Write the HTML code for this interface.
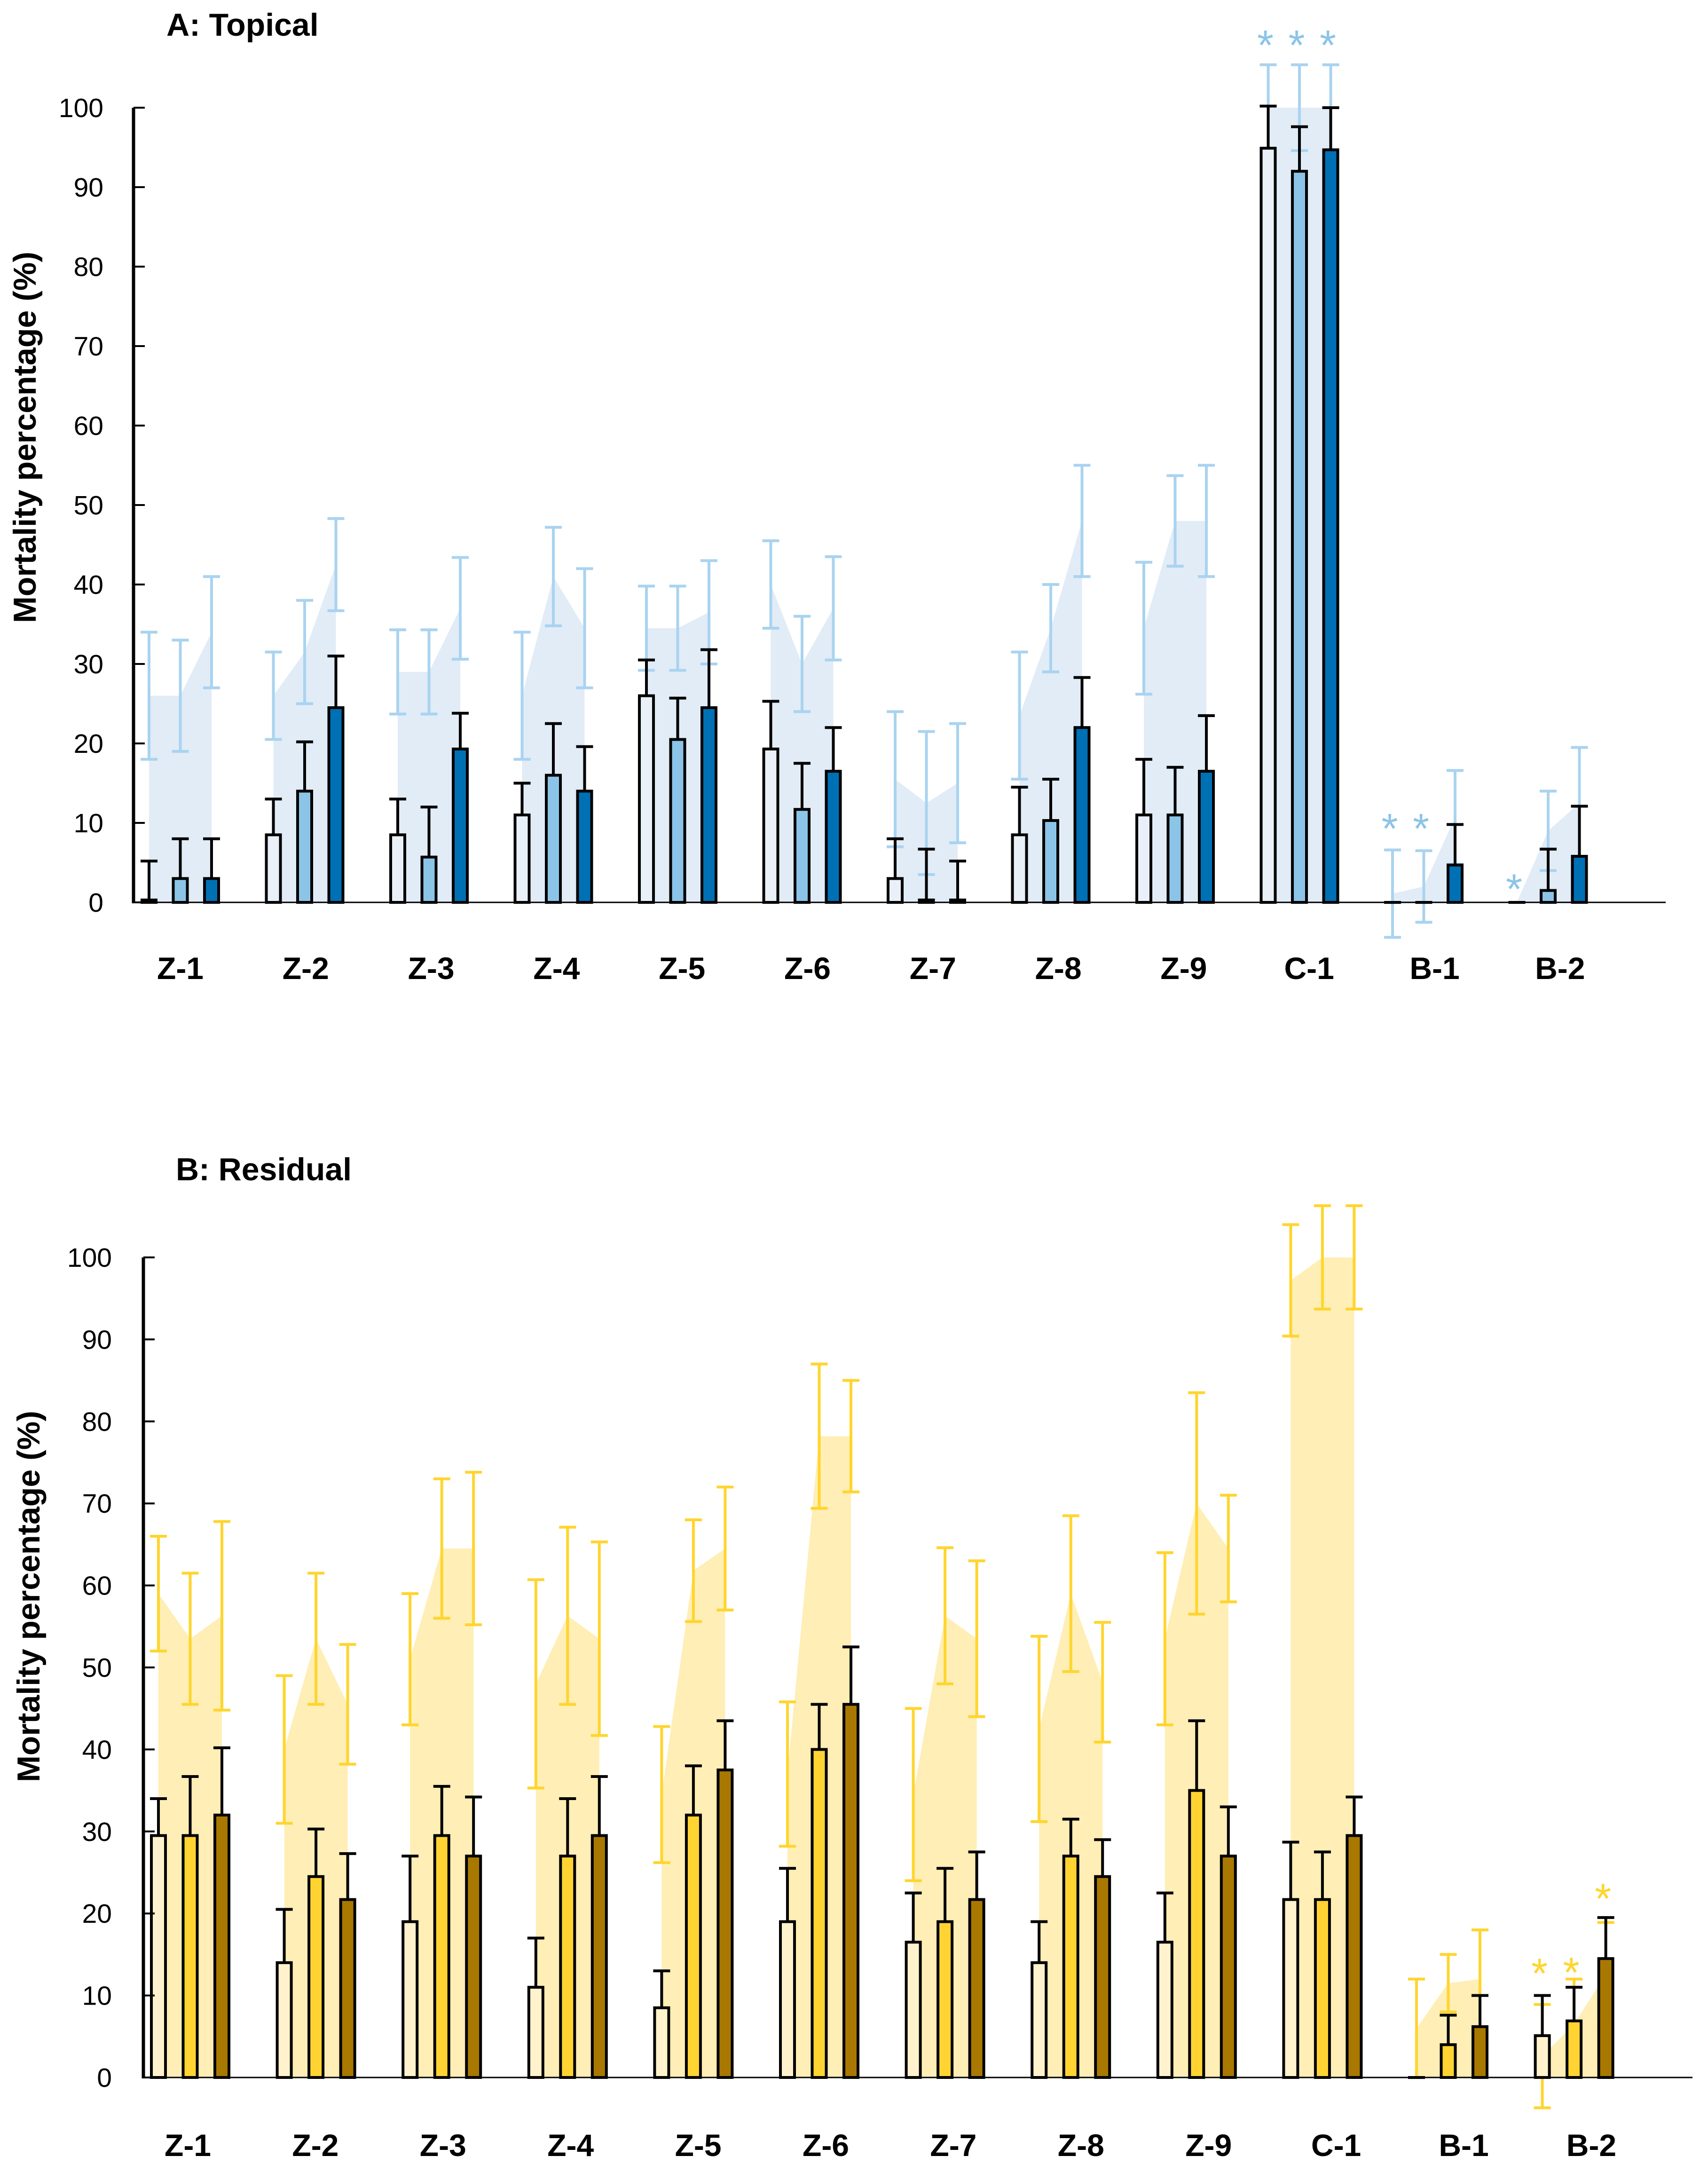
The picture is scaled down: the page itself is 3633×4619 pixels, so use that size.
<!DOCTYPE html>
<html><head><meta charset="utf-8"><style>
html,body{margin:0;padding:0;background:#fff;}
svg{display:block;}
text{font-family:"Liberation Sans",sans-serif;}
</style></head><body>
<svg id="chart" width="3633" height="4619" viewBox="0 0 3633 4619" xmlns="http://www.w3.org/2000/svg">
<g id="panelA"></g>
<g id="panelB"></g>
</svg>
<script>
const categories = ["Z-1","Z-2","Z-3","Z-4","Z-5","Z-6","Z-7","Z-8","Z-9","C-1","B-1","B-2"];
const yTicks = [0,10,20,30,40,50,60,70,80,90,100];
// Panel A (topical): bar means and upper error
const aBar1 = [0.3,8.5,8.5,11,26,19.3,3,8.5,11,94.9,0,0];
const aBar1Err = [5.2,13,13,15,30.5,25.3,8,14.5,18,100.2,null,null];
const aBar2 = [3,14,5.7,16,20.5,11.7,0.3,10.3,11,92,0,1.5];
const aBar2Err = [8,20.2,12,22.5,25.7,17.5,6.7,15.5,17,97.6,null,6.7];
const aBar3 = [3,24.5,19.3,14,24.5,16.5,0.3,22,16.5,94.7,4.7,5.8];
const aBar3Err = [8,31,23.8,19.6,31.8,22,5.2,28.3,23.5,100,9.8,12.1];
// Panel A shaded comparison series (mean, ± sd)
const aShade1 = [26,26,29,26,34.5,40,15.5,23.5,34.5,100,1.1,0];
const aShade1Sd = [8,5.5,5.3,8,5.3,5.5,8.5,8,8.3,5.4,5.5,null];
const aShade2 = [26,31.5,29,41,34.5,30,12.5,34.5,48,100,2,9];
const aShade2Sd = [7,6.5,5.3,6.2,5.3,6,9,5.5,5.7,5.4,4.5,5];
const aShade3 = [34,42.5,37,34.5,36.5,37,15,48,48,100,10.7,12.5];
const aShade3Sd = [7,5.8,6.4,7.5,6.5,6.5,7.5,7,7,5.4,5.9,7];
const aStars = [[null,null,null],[null,null,null],[null,null,null],[null,null,null],[null,null,null],[null,null,null],[null,null,null],[null,null,null],[null,null,null],[109,109,109],[10.4,10.4,null],[2.8,null,null]];
// Panel B (residual)
const bBar1 = [29.5,14,19,11,8.5,19,16.5,14,16.5,21.7,0,5.1];
const bBar1Err = [34,20.5,27,17,13,25.5,22.5,19,22.5,28.7,null,10];
const bBar2 = [29.5,24.5,29.5,27,32,40,19,27,35,21.7,4,6.9];
const bBar2Err = [36.7,30.3,35.5,34,38,45.5,25.5,31.5,43.5,27.5,7.6,11];
const bBar3 = [32,21.7,27,29.5,37.5,45.5,21.7,24.5,27,29.5,6.2,14.5];
const bBar3Err = [40.2,27.3,34.2,36.7,43.5,52.5,27.5,29,33,34.2,10,19.5];
const bShade1 = [59,40,51,48,34.5,37,34.5,42.5,53.5,97.2,6,2.6];
const bShade1Sd = [7,9,8,12.7,8.3,8.8,10.5,11.3,10.5,6.8,6,6.3];
const bShade2 = [53.5,53.5,64.5,56.3,61.8,78.2,56.3,59,70,100,11.5,6.5];
const bShade2Sd = [8,8,8.5,10.8,6.2,8.8,8.3,9.5,13.5,6.3,3.5,5.5];
const bShade3 = [56.3,45.5,64.5,53.5,64.5,78.2,53.5,48.2,64.5,100,12,12.6];
const bShade3Sd = [11.5,7.3,9.3,11.8,7.5,6.8,9.5,7.3,6.5,6.3,6,6.3];
const bStars = [[null,null,null],[null,null,null],[null,null,null],[null,null,null],[null,null,null],[null,null,null],[null,null,null],[null,null,null],[null,null,null],[null,null,null],[null,null,null],[13.8,13.9,22.9]];

const NS = "http://www.w3.org/2000/svg";
function mk(parent, tag, attrs, txt){
  const e = document.createElementNS(NS, tag);
  for (const k in attrs) e.setAttribute(k, attrs[k]);
  if (txt !== undefined) e.textContent = txt;
  parent.appendChild(e);
  return e;
}

function drawPanel(cfg){
  const g = document.getElementById(cfg.id);
  const yS = v => cfg.y0 - v * cfg.pxPer;
  const xS = (gi, k) => cfg.xStart + cfg.gStep * gi + cfg.bStep * k;
  const bars = [cfg.b1, cfg.b2, cfg.b3];
  const errs = [cfg.e1, cfg.e2, cfg.e3];
  const sh = [cfg.s1, cfg.s2, cfg.s3];
  const sd = [cfg.d1, cfg.d2, cfg.d3];
  const t = mk(g, "text", {x: cfg.titleX, y: cfg.titleY, "font-size": 68, "font-weight": "bold", fill: "#000"}, cfg.title);
  
  
  const yt = mk(g, "text", {x: 0, y: 0, "font-size": 68, "font-weight": "bold", "text-anchor": "middle", transform: `translate(${cfg.yTitleX},${cfg.yTitleY}) rotate(-90)`}, "Mortality percentage (%)");
  
  
  categories.forEach((c, gi) => {
    const pts = [];
    for (let k = 0; k < 3; k++) { if (sh[k][gi] !== null) pts.push([xS(gi, k), yS(Math.max(0, sh[k][gi]))]); }
    if (pts.length < 2) return;
    let d = `M${pts[0][0]},${yS(0)} ` + pts.map(p => `L${p[0]},${p[1]}`).join(" ") + ` L${pts[pts.length-1][0]},${yS(0)} Z`;
    const a = mk(g, "path", {d: d, fill: cfg.areaColor});
    
    
  });
  categories.forEach((c, gi) => {
    for (let k = 0; k < 3; k++) {
      if (sd[k][gi] === null || sh[k][gi] === null) continue;
      const x = xS(gi, k), lo = yS(sh[k][gi] - sd[k][gi]), hi = yS(sh[k][gi] + sd[k][gi]);
      const e = mk(g, "path", {d: `M${x},${lo} L${x},${hi} M${x-18},${hi} L${x+18},${hi} M${x-18},${lo} L${x+18},${lo}`, stroke: cfg.errColor, "stroke-width": 6, fill: "none"});
      
      
    }
  });
  categories.forEach((c, gi) => {
    for (let k = 0; k < 3; k++) {
      const v = bars[k][gi], x = xS(gi, k);
      const r = mk(g, "rect", {x: x - 15, y: yS(v), width: 30, height: Math.max(0.1, yS(0) - yS(v)), fill: cfg.colors[k], stroke: "#000", "stroke-width": 6});
      
      
    }
  });
  categories.forEach((c, gi) => {
    for (let k = 0; k < 3; k++) {
      if (errs[k][gi] === null) continue;
      const x = xS(gi, k), top = yS(errs[k][gi]), b = yS(bars[k][gi]);
      const e = mk(g, "path", {d: `M${x},${b} L${x},${top} M${x-18},${top} L${x+18},${top}`, stroke: "#000", "stroke-width": 6, fill: "none"});
      
      
    }
  });
  categories.forEach((c, gi) => {
    for (let k = 0; k < 3; k++) {
      const s = cfg.stars[gi][k];
      if (s === null) continue;
      const st = mk(g, "text", {x: xS(gi, k) - 6, y: yS(s) + 50, "font-size": 90, "text-anchor": "middle", fill: cfg.starColor}, "*");
      
      
    }
  });
  const ax = mk(g, "line", {x1: cfg.axisX, y1: yS(100), x2: cfg.axisX, y2: yS(0) + 2, stroke: "#000", "stroke-width": 7});
  
  
  const xa = mk(g, "line", {x1: cfg.axisX, y1: yS(0), x2: cfg.xEnd, y2: yS(0), stroke: "#000", "stroke-width": 3});
  
  
  yTicks.forEach(v => {
    const tk = mk(g, "line", {x1: cfg.axisX, y1: yS(v), x2: cfg.axisX + 24, y2: yS(v), stroke: "#000", "stroke-width": 4});
    
    
    const tl = mk(g, "text", {x: cfg.tickLabelX, y: yS(v) + 20, "font-size": 57, "text-anchor": "end", fill: "#000"}, String(v));
    
    
  });
  categories.forEach((c, gi) => {
    const cl = mk(g, "text", {x: xS(gi, 1) + cfg.labelDrift * gi + cfg.labelOff, y: cfg.catY, "font-size": 66, "font-weight": "bold", "text-anchor": "middle", fill: "#000"}, c);
    
    
  });
}

drawPanel({id: "panelA", title: "A: Topical", titleX: 354, titleY: 76, yTitleX: 76, yTitleY: 930,
  y0: 1919, pxPer: 16.9, xStart: 317, gStep: 264.5, bStep: 66.5, axisX: 284, xEnd: 3543, tickLabelX: 220, catY: 2082,
  labelDrift: 2.3, labelOff: 0,
  b1: aBar1, b2: aBar2, b3: aBar3, e1: aBar1Err, e2: aBar2Err, e3: aBar3Err,
  s1: aShade1, s2: aShade2, s3: aShade3, d1: aShade1Sd, d2: aShade2Sd, d3: aShade3Sd, stars: aStars,
  colors: ["#e9f0f8", "#8cc4e8", "#0070b5"], areaColor: "#e1ecf7", errColor: "#a9d3f0", starColor: "#8cc4e8"});
drawPanel({id: "panelB", title: "B: Residual", titleX: 374, titleY: 2510, yTitleX: 84, yTitleY: 3395,
  y0: 4418, pxPer: 17.44, xStart: 337, gStep: 267.6, bStep: 67.5, axisX: 305, xEnd: 3600, tickLabelX: 238, catY: 4585,
  labelDrift: 3.8, labelOff: -5,
  b1: bBar1, b2: bBar2, b3: bBar3, e1: bBar1Err, e2: bBar2Err, e3: bBar3Err,
  s1: bShade1, s2: bShade2, s3: bShade3, d1: bShade1Sd, d2: bShade2Sd, d3: bShade3Sd, stars: bStars,
  colors: ["#fff2cc", "#ffd432", "#a97800"], areaColor: "#ffeeb5", errColor: "#ffd52e", starColor: "#ffd52e"});
</script>
</body></html>
